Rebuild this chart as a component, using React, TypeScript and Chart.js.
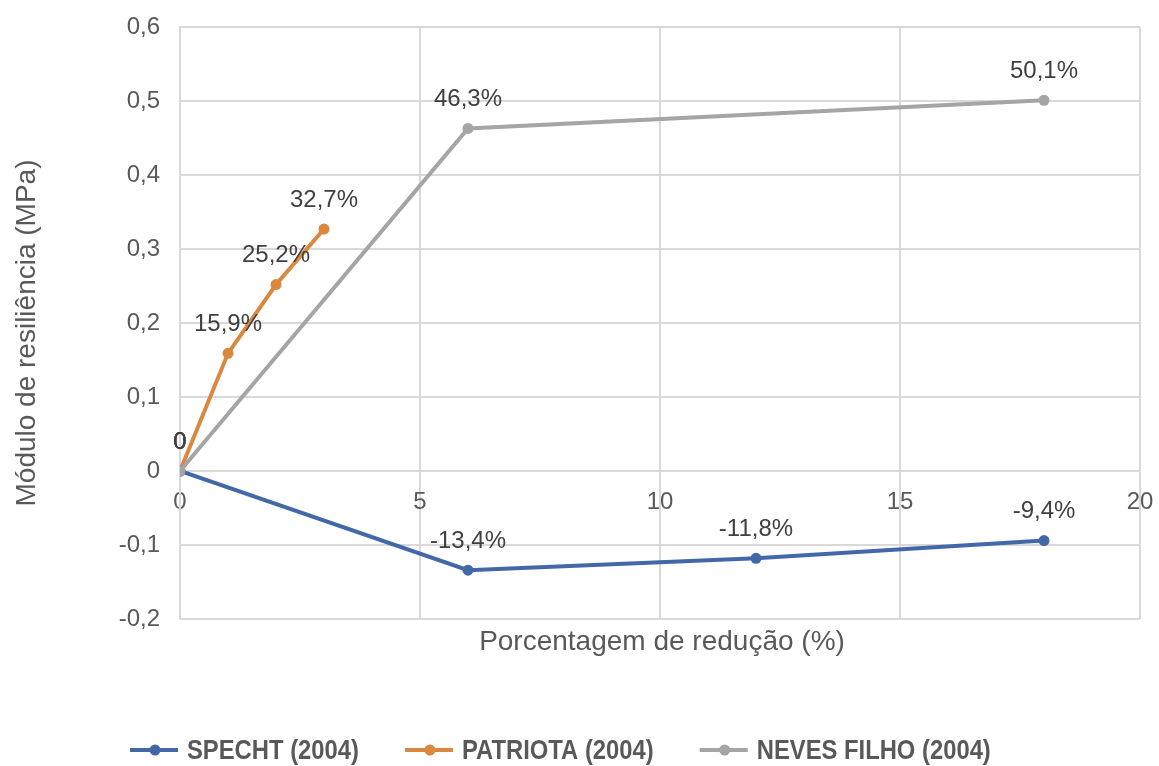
import React, { useEffect, useRef } from "react";
import { Chart, registerables } from "chart.js";

Chart.register(...registerables);

// Redução (%) and módulo de resiliência (MPa) per study
const reducaoSpecht = [0, 6, 12, 18];
const moduloSpecht = [0, -0.134, -0.118, -0.094];

const reducaoPatriota = [0, 1, 2, 3];
const moduloPatriota = [0, 0.159, 0.252, 0.327];

const reducaoNeves = [0, 6, 18];
const moduloNeves = [0, 0.463, 0.501];

const seriesNames = ["SPECHT (2004)", "PATRIOTA (2004)", "NEVES FILHO (2004)"];
const seriesColors = ["#4368A8", "#DA8840", "#A5A5A5"];

const xTitle = "Porcentagem de redução (%)";
const yTitle = "Módulo de resiliência (MPa)";

const FONT = '"Liberation Sans", Arial, sans-serif';
const TEXT = "#595959";
const LABEL = "#404040";
const GRID = "#D9D9D9";

const toPoints = (xs: number[], ys: number[]) => xs.map((x, i) => ({ x, y: ys[i] }));

const fmtValue = (v: number) =>
  Math.abs(v) < 1e-9 ? "0" : (v * 100).toFixed(1).replace(".", ",") + "%";

const fmtTick = (v: number) =>
  Math.abs(v) < 1e-9 ? "0" : Number(v).toFixed(1).replace(".", ",");

// Scales keep no extra edge padding; the layout padding alone places the plot
const noEdgePadding = (s: any) => {
  s.paddingTop = 0;
  s.paddingBottom = 0;
  s.paddingLeft = 0;
  s.paddingRight = 0;
};

// Value labels above each marker
const valueLabels = {
  id: "valueLabels",
  afterDatasetsDraw(chart: any) {
    const { ctx } = chart;
    ctx.save();
    ctx.font = `24px ${FONT}`;
    ctx.fillStyle = LABEL;
    ctx.textAlign = "center";
    ctx.textBaseline = "middle";
    chart.data.datasets.forEach((ds: any, di: number) => {
      const meta = chart.getDatasetMeta(di);
      meta.data.forEach((pt: any, i: number) => {
        ctx.fillText(fmtValue(ds.data[i].y), pt.x, pt.y - 29);
      });
    });
    ctx.restore();
  },
};

// Axis titles and the legend row under the plot
const decorations = {
  id: "decorations",
  afterDraw(chart: any) {
    const { ctx, chartArea } = chart;
    ctx.save();
    ctx.fillStyle = TEXT;
    ctx.font = `28px ${FONT}`;
    ctx.textAlign = "center";
    ctx.textBaseline = "middle";
    ctx.fillText(xTitle, (chartArea.left + chartArea.right) / 2 + 2, chartArea.bottom + 23);

    ctx.save();
    ctx.translate(27, (chartArea.top + chartArea.bottom) / 2 + 10);
    ctx.rotate(-Math.PI / 2);
    ctx.fillText(yTitle, 0, 0);
    ctx.restore();

    // legend
    const legendY = 750;
    const sx = 0.85;
    ctx.font = `bold 28px ${FONT}`;
    ctx.textAlign = "left";
    let x = 130;
    seriesNames.forEach((name, i) => {
      const color = seriesColors[i];
      ctx.strokeStyle = color;
      ctx.lineWidth = 4;
      ctx.beginPath();
      ctx.moveTo(x, legendY);
      ctx.lineTo(x + 48, legendY);
      ctx.stroke();
      ctx.fillStyle = color;
      ctx.beginPath();
      ctx.arc(x + 25, legendY, 5.5, 0, Math.PI * 2);
      ctx.fill();

      const tx = x + 57;
      ctx.save();
      ctx.translate(tx, legendY);
      ctx.scale(sx, 1);
      ctx.fillStyle = TEXT;
      ctx.fillText(name, 0, 1);
      const w = ctx.measureText(name).width * sx;
      ctx.restore();
      x = tx + w + 46;
    });
    ctx.restore();
  },
};

export default function App() {
  const canvasRef = useRef<HTMLCanvasElement | null>(null);

  useEffect(() => {
    if (!canvasRef.current) return;
    const makeDs = (label: string, pts: any[], color: string, order: number) => ({
      label,
      data: pts,
      borderColor: color,
      backgroundColor: color,
      borderWidth: 4,
      pointRadius: 5.5,
      pointBorderWidth: 0,
      pointBackgroundColor: color,
      tension: 0,
      order,
    });

    const chart = new Chart(canvasRef.current, {
      type: "line",
      data: {
        datasets: [
          makeDs(seriesNames[0], toPoints(reducaoSpecht, moduloSpecht), seriesColors[0], 1),
          makeDs(seriesNames[1], toPoints(reducaoPatriota, moduloPatriota), seriesColors[1], 2),
          makeDs(seriesNames[2], toPoints(reducaoNeves, moduloNeves), seriesColors[2], 0),
        ],
      },
      options: {
        animation: false,
        responsive: false,
        devicePixelRatio: 1,
        layout: { padding: { left: 0, top: 27, right: 19, bottom: 147 } },
        plugins: {
          legend: { display: false },
          tooltip: { enabled: false },
        },
        scales: {
          x: {
            type: "linear",
            min: 0,
            max: 20,
            position: { y: 0 } as any,
            ticks: {
              stepSize: 5,
              padding: 17,
              color: TEXT,
              font: { size: 24, family: FONT },
              maxRotation: 0,
              callback: (v: any) => String(v),
            },
            grid: { color: GRID, lineWidth: 2, drawTicks: false },
            border: { color: GRID, width: 2 },
            afterFit: (s: any) => {
              s.height = 0;
              noEdgePadding(s);
            },
          },
          y: {
            type: "linear",
            min: -0.2,
            max: 0.6,
            ticks: {
              stepSize: 0.1,
              padding: 20,
              color: TEXT,
              font: { size: 24, family: FONT },
              callback: (v: any) => fmtTick(Number(v)),
            },
            grid: { color: GRID, lineWidth: 2, drawTicks: false },
            border: { color: GRID, width: 2 },
            afterFit: (s: any) => {
              s.width = 180;
              noEdgePadding(s);
            },
          },
        },
      },
      plugins: [valueLabels, decorations],
    });
    return () => chart.destroy();
  }, []);

  return (
    <div style={{ position: "absolute", left: 0, top: 0, width: 1159, height: 766, background: "#fff" }}>
      <canvas ref={canvasRef} width={1159} height={766} style={{ display: "block" }} />
    </div>
  );
}
